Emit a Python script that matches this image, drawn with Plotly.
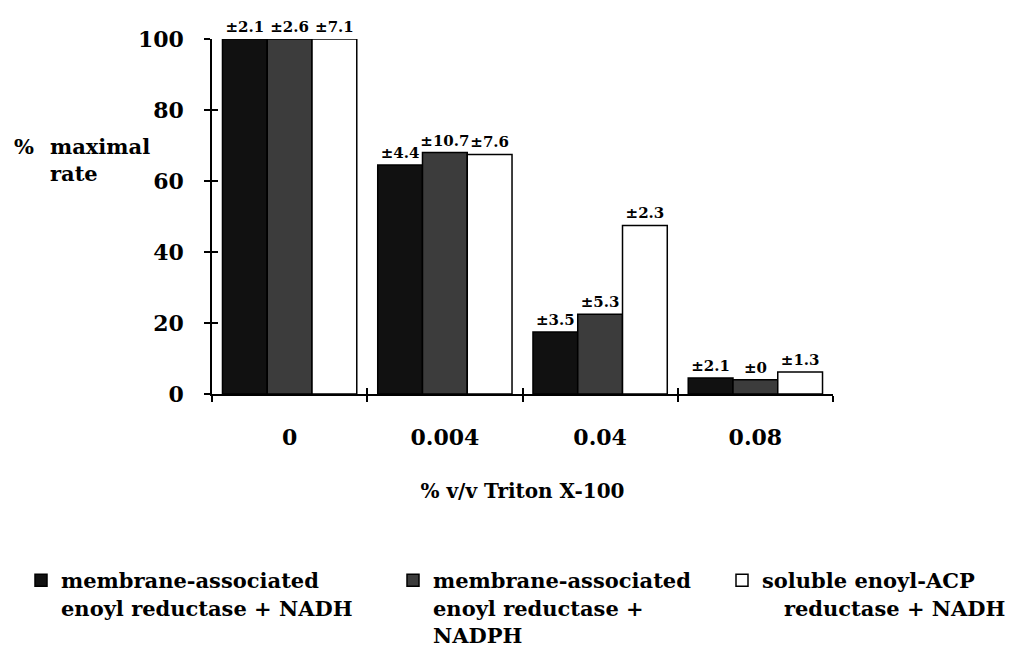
import plotly.graph_objects as go

categories = ["0", "0.004", "0.04", "0.08"]
series_names = [
    "membrane-associated<br>enoyl reductase + NADH",
    "membrane-associated<br>enoyl reductase +<br>NADPH",
    "soluble enoyl-ACP<br>   reductase + NADH",
]
nadh_membrane = [100, 64.5, 17.5, 4.5]
nadph_membrane = [100, 68, 22.5, 4.0]
nadh_soluble = [100, 67.5, 47.5, 6.2]
err_nadh_membrane = ["2.1", "4.4", "3.5", "2.1"]
err_nadph_membrane = ["2.6", "10.7", "5.3", "0"]
err_nadh_soluble = ["7.1", "7.6", "2.3", "1.3"]
y_ticks = [0, 20, 40, 60, 80, 100]

values = [nadh_membrane, nadph_membrane, nadh_soluble]
errors = [err_nadh_membrane, err_nadph_membrane, err_nadh_soluble]
fills = ["#111111", "#3c3c3c", "#ffffff"]
legend_ids = ["legend", "legend2", "legend3"]

FONT = "DejaVu Serif"
BLACK = "#000000"
L, R, T, B = 212, 177, 39, 257
PW, PH = 1010 - L - R, 651 - T - B


def bold(size):
    return dict(family=FONT, size=size, color=BLACK, weight="bold")


fig = go.Figure()
for name, vals, errs, fill, lg in zip(series_names, values, errors, fills, legend_ids):
    fig.add_trace(go.Bar(
        x=categories, y=vals, name=name,
        marker=dict(color=fill, line=dict(color=BLACK, width=1.5)),
        text=["±" + e for e in errs],
        textposition="outside",
        textfont=bold(15),
        constraintext="none", cliponaxis=False,
        legend=lg, showlegend=True,
    ))

# empty helper trace so the overlay axes (inner half of crossing ticks) are drawn
fig.add_trace(go.Scatter(x=[], y=[], xaxis="x2", yaxis="y2", showlegend=False,
                         hoverinfo="skip"))

legend_common = dict(
    font=bold(21),
    bgcolor="rgba(0,0,0,0)", valign="top", orientation="v",
    yanchor="top", xanchor="left", itemwidth=30,
)
legend_top = -(560 - 394) / PH
n = len(categories)
fig.update_layout(
    width=1010, height=651,
    margin=dict(l=L, r=R, t=T, b=B, autoexpand=False),
    paper_bgcolor="white", plot_bgcolor="white",
    barmode="group", bargap=0.135, bargroupgap=0,
    showlegend=True,
    font=bold(16),
    legend=dict(x=(21 - L) / PW, y=legend_top, **legend_common),
    legend2=dict(x=(393 - L) / PW, y=legend_top, **legend_common),
    legend3=dict(x=(722 - L) / PW, y=legend_top, **legend_common),
    xaxis=dict(
        showline=True, linecolor=BLACK, linewidth=1.5,
        ticks="outside", tickson="boundaries", ticklen=6, tickcolor=BLACK, tickwidth=1.5,
        tickfont=bold(22), ticklabelstandoff=23,
        title=dict(text="% v/v Triton X-100", font=bold(20), standoff=35),
        showgrid=False, fixedrange=True,
    ),
    yaxis=dict(
        range=[0, 100], showline=True, linecolor=BLACK, linewidth=1.5,
        ticks="outside", ticklen=6, tickcolor=BLACK, tickwidth=1.5,
        tickvals=y_ticks, tickfont=bold(22),
        showgrid=False, zeroline=False, ticklabelstandoff=16, fixedrange=True,
    ),
    xaxis2=dict(
        overlaying="x", range=[-0.5, n - 0.5], tickvals=[i - 0.5 for i in range(n + 1)],
        ticks="inside", ticklen=6, tickcolor=BLACK, tickwidth=1.5,
        showticklabels=False, showgrid=False, zeroline=False, showline=False,
        side="bottom", fixedrange=True,
    ),
    yaxis2=dict(
        overlaying="y", range=[0, 100], tickvals=y_ticks,
        ticks="inside", ticklen=6, tickcolor=BLACK, tickwidth=1.5,
        showticklabels=False, showgrid=False, zeroline=False, showline=False,
        side="left", fixedrange=True,
    ),
    annotations=[
        dict(text="%", xref="paper", yref="paper",
             x=(12 - L) / PW, y=(394 - 132) / PH, xanchor="left", yanchor="top",
             showarrow=False, align="left", font=bold(21)),
        dict(text="maximal<br>rate", xref="paper", yref="paper",
             x=(48 - L) / PW, y=(394 - 132) / PH, xanchor="left", yanchor="top",
             showarrow=False, align="left", font=bold(21)),
    ],
)

fig.write_html("out.html", config={"displayModeBar": False},
               post_script="document.body.style.margin='0';")
